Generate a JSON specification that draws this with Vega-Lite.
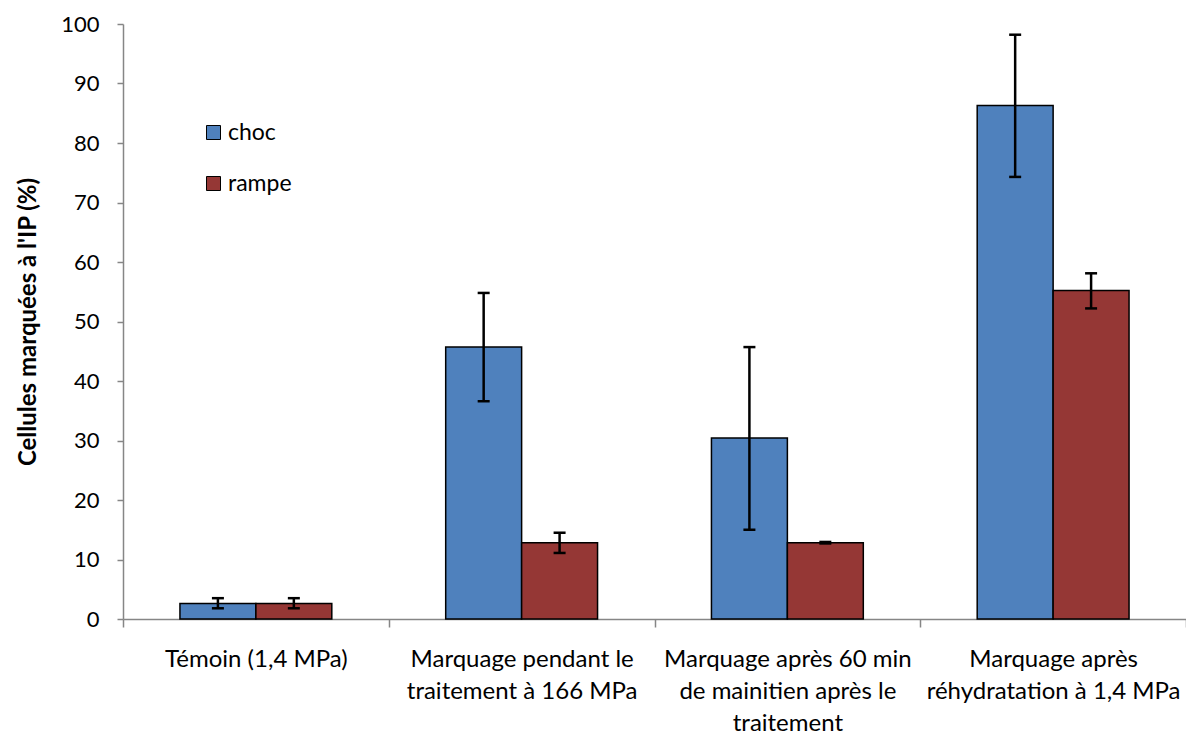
{
  "$schema": "https://vega.github.io/schema/vega-lite/v6.json",
  "width": 1063,
  "height": 595,
  "autosize": {"type": "none"},
  "padding": {"left": 123, "top": 24, "right": 0, "bottom": 117},
  "background": "white",
  "config": {"view": {"stroke": null}, "font": "Lato"},
  "data": {
    "values": [
      {"cat": "Témoin (1,4 MPa)", "serie": "choc", "v": 2.6, "lo": 1.8, "hi": 3.5},
      {"cat": "Témoin (1,4 MPa)", "serie": "rampe", "v": 2.6, "lo": 1.8, "hi": 3.5},
      {"cat": "Marquage pendant le|traitement à 166 MPa", "serie": "choc", "v": 45.7, "lo": 36.6, "hi": 54.8},
      {"cat": "Marquage pendant le|traitement à 166 MPa", "serie": "rampe", "v": 12.8, "lo": 11.1, "hi": 14.5},
      {"cat": "Marquage après 60 min|de mainitien après le|traitement", "serie": "choc", "v": 30.4, "lo": 15.0, "hi": 45.7},
      {"cat": "Marquage après 60 min|de mainitien après le|traitement", "serie": "rampe", "v": 12.8, "lo": 12.7, "hi": 12.95},
      {"cat": "Marquage après|réhydratation à 1,4 MPa", "serie": "choc", "v": 86.3, "lo": 74.3, "hi": 98.2},
      {"cat": "Marquage après|réhydratation à 1,4 MPa", "serie": "rampe", "v": 55.2, "lo": 52.2, "hi": 58.1}
    ]
  },
  "encoding": {
    "x": {
      "field": "cat", "type": "nominal", "sort": null,
      "scale": {"paddingInner": 0, "paddingOuter": 0},
      "axis": {
        "title": null, "labelAngle": 0, "labelFontSize": 24, "labelColor": "black",
        "labelPadding": 20, "labelLineHeight": 32, "labelLimit": 0,
        "labelExpr": "split(datum.label, '|')",
        "domainColor": "#868686", "domainWidth": 1.5, "tickColor": "#868686", "tickWidth": 1.5,
        "tickSize": 8, "tickBand": "extent"
      }
    },
    "xOffset": {
      "field": "serie", "type": "nominal", "sort": ["choc", "rampe"],
      "scale": {"paddingInner": 0, "paddingOuter": 0.75}
    },
    "y": {
      "field": "v", "type": "quantitative",
      "scale": {"domain": [0, 100], "nice": false},
      "axis": {
        "values": [0, 10, 20, 30, 40, 50, 60, 70, 80, 90, 100],
        "grid": false, "domainColor": "#868686", "domainWidth": 1.5,
        "tickColor": "#868686", "tickWidth": 1.5, "tickSize": 6,
        "labelFontSize": 22, "labelColor": "black", "labelPadding": 18,
        "title": "Cellules marquées à l'IP (%)", "titleFontSize": 24, "titleFontWeight": "bold",
        "titleColor": "black", "titlePadding": 20
      }
    }
  },
  "layer": [
    {
      "mark": {"type": "bar", "stroke": "black", "strokeWidth": 1.5},
      "encoding": {
        "color": {
          "field": "serie", "type": "nominal",
          "scale": {"domain": ["choc", "rampe"], "range": ["#4F81BD", "#953735"]},
          "legend": {
            "orient": "none", "legendX": 79, "legendY": 97, "title": null,
            "symbolType": "square", "symbolSize": 196, "symbolStrokeColor": "black",
            "symbolStrokeWidth": 1, "labelFontSize": 23, "labelColor": "black",
            "rowPadding": 27, "labelOffset": 3
          }
        }
      }
    },
    {
      "mark": {"type": "rule", "strokeWidth": 2.5, "color": "black"},
      "encoding": {
        "y": {"field": "lo", "type": "quantitative"},
        "y2": {"field": "hi"}
      }
    },
    {
      "mark": {"type": "tick", "thickness": 2.5, "size": 12, "color": "black", "opacity": 1},
      "encoding": {"y": {"field": "lo", "type": "quantitative"}}
    },
    {
      "mark": {"type": "tick", "thickness": 2.5, "size": 12, "color": "black", "opacity": 1},
      "encoding": {"y": {"field": "hi", "type": "quantitative"}}
    }
  ]
}
